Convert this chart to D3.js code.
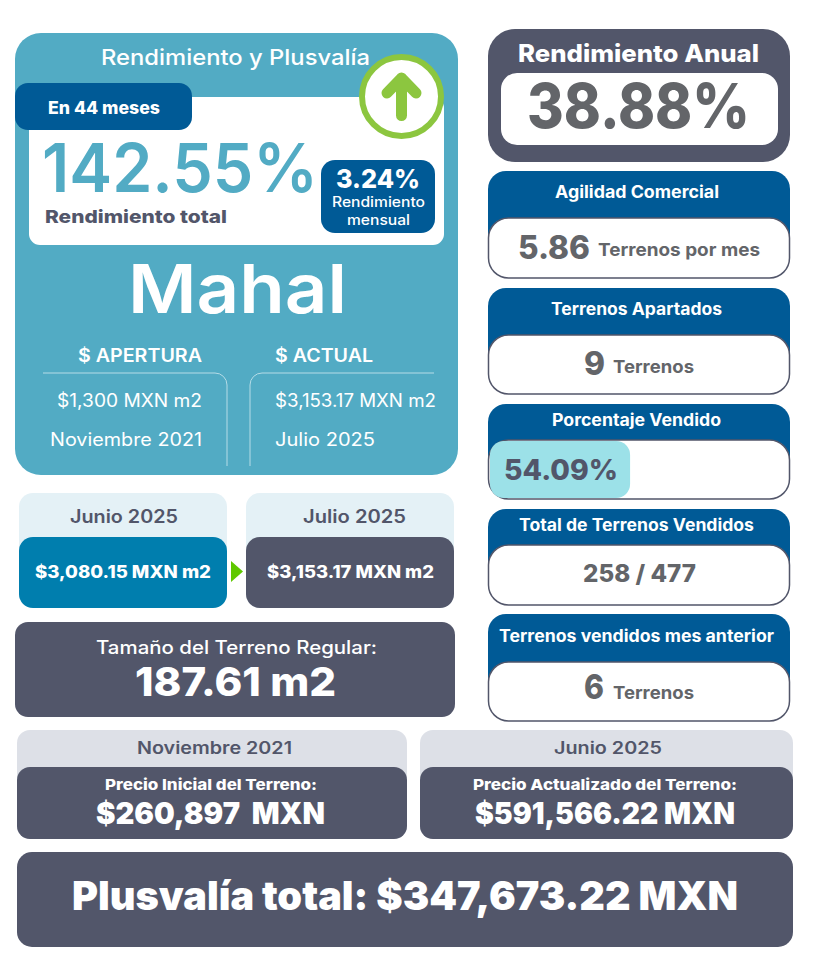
<!DOCTYPE html>
<html>
<head>
<meta charset="utf-8">
<script src="https://cdn.jsdelivr.net/npm/d3@7"></script>
<style>
	html, body { margin: 0; padding: 0; background: #fff; }
	svg { display: block; }
	text { font-family: Inter, Lato, sans-serif; }
</style>
</head>
<body>
<svg id="ficha" width="813" height="965"></svg>
<script>
// datos
let rendimientoTotal = 142.55;
let rendimientoMensual = 3.24;
let rendimientoAnual = 38.88;
let porcentajeVendido = 54.09;
let tarjetasTitulos = ['Agilidad Comercial', 'Terrenos Apartados', 'Porcentaje Vendido', 'Total de Terrenos Vendidos', 'Terrenos vendidos mes anterior'];
let tarjetasValores = ['5.86', '9', '54.09%', '258 / 477', '6'];
let tarjetasUnidades = ['Terrenos por mes', 'Terrenos', '', '', 'Terrenos'];
let aperturaTextos = ['$ APERTURA', '$1,300 MXN m2', 'Noviembre 2021'];
let actualTextos = ['$ ACTUAL', '$3,153.17 MXN m2', 'Julio 2025'];
let mesesNombres = ['Junio 2025', 'Julio 2025'];
let mesesPrecios = ['$3,080.15 MXN m2', '$3,153.17 MXN m2'];
let preciosFechas = ['Noviembre 2021', 'Junio 2025'];
let preciosTitulos = ['Precio Inicial del Terreno:', 'Precio Actualizado del Terreno:'];
let preciosValores = ['$260,897  MXN', '$591,566.22 MXN'];

const azul = '#52abc4', marino = '#005a96', gris = '#52566a', grisTexto = '#636569', blanco = '#fff';

let svg = d3.select('#ficha');

function caja(x0, y0, x1, y1, r, fill, stroke) {
	return svg.append('rect')
		.attr('x', x0).attr('y', y0)
		.attr('width', x1 - x0).attr('height', y1 - y0)
		.attr('rx', r)
		.attr('fill', fill)
		.attr('stroke', stroke || 'none')
		.attr('stroke-width', stroke ? 1.5 : 0);
}

// texto ajustado al ancho que ocupa en la ficha
function texto(str, x0, x1, base, size, weight, color) {
	return svg.append('text')
		.attr('x', x0).attr('y', base)
		.attr('textLength', x1 - x0)
		.attr('lengthAdjust', 'spacingAndGlyphs')
		.attr('font-size', size)
		.attr('font-weight', weight)
		.attr('fill', color)
		.attr('xml:space', 'preserve')
		.text(str);
}

// panel principal
caja(15, 33, 458, 475, 26, azul);
caja(29, 97, 444, 245, 11, blanco);
texto('Rendimiento y Plusvalía', 101, 370, 65, 22, 500, blanco);
caja(15, 83, 192, 130, 13, marino);
texto('En 44 meses', 48, 160, 114, 17, 800, blanco);

svg.append('circle').attr('cx', 401.5).attr('cy', 96.5).attr('r', 39.5)
	.attr('fill', blanco).attr('stroke', '#8cc63f').attr('stroke-width', 6);
svg.append('path')
	.attr('d', d3.line()([[401.5, 115.5], [401.5, 78]]) + d3.line()([[387, 93], [401.5, 78], [416, 93]]))
	.attr('fill', 'none').attr('stroke', '#8cc63f').attr('stroke-width', 11)
	.attr('stroke-linecap', 'round').attr('stroke-linejoin', 'round');

texto(rendimientoTotal.toFixed(2) + '%', 42, 318, 192, 67, 600, azul);
texto('Rendimiento total', 45, 227, 223, 18, 800, gris);

caja(321, 160, 435, 233, 14, marino);
texto(rendimientoMensual.toFixed(2) + '%', 336, 420, 188, 26, 800, blanco);
texto('Rendimiento', 332, 425, 207, 14, 500, blanco);
texto('mensual', 347, 410, 225, 14, 500, blanco);

texto('Mahal', 128, 347, 313, 68, 600, blanco);

// columnas apertura y actual
texto(aperturaTextos[0], 78, 202, 362, 18, 600, blanco);
texto(actualTextos[0], 275, 373, 362, 18, 600, blanco);
texto(aperturaTextos[1], 57, 202, 407, 18, 400, blanco);
texto(actualTextos[1], 275, 436, 407, 18, 400, blanco);
texto(aperturaTextos[2], 50, 202, 446, 18, 400, blanco);
texto(actualTextos[2], 275, 375, 446, 18, 400, blanco);

let marcos = d3.path();
marcos.moveTo(43, 373); marcos.lineTo(215, 373); marcos.arcTo(227, 373, 227, 385, 12); marcos.lineTo(227, 466);
marcos.moveTo(434, 373); marcos.lineTo(262, 373); marcos.arcTo(250, 373, 250, 385, 12); marcos.lineTo(250, 466);
svg.append('path').attr('d', marcos.toString())
	.attr('fill', 'none').attr('stroke', '#b5dce7').attr('stroke-width', 1);

// junio - julio
const mesX = [[19, 227], [246, 454]];
const mesNombreX = [[70, 178], [303, 406]];
const mesPrecioX = [[35, 211], [267, 434]];
const mesColor = ['#007eae', gris];
mesesNombres.forEach(function(d, i) {
	caja(mesX[i][0], 493, mesX[i][1], 608, 14, '#e4f1f6');
	caja(mesX[i][0], 537, mesX[i][1], 608, 14, mesColor[i]);
	texto(d, mesNombreX[i][0], mesNombreX[i][1], 523, 18, 600, gris);
	texto(mesesPrecios[i], mesPrecioX[i][0], mesPrecioX[i][1], 578, 17, 800, blanco);
});
svg.append('path').attr('d', d3.line()([[231, 561], [243, 571.5], [231, 582]]) + 'Z').attr('fill', '#5fc800');

// terreno
caja(15, 622, 455, 717, 13, gris);
texto('Tamaño del Terreno Regular:', 96, 377, 654, 18, 500, blanco);
texto('187.61 m2', 135, 336, 696, 40, 800, blanco);

// precios
const precioX = [[17, 407], [420, 793]];
const precioFechaX = [[137, 292], [554, 662]];
const precioTituloX = [[105, 317], [473, 737]];
const precioValorX = [[96, 325], [475, 735]];
preciosFechas.forEach(function(d, i) {
	caja(precioX[i][0], 730, precioX[i][1], 839, 13, '#dde0e7');
	caja(precioX[i][0], 767, precioX[i][1], 839, 13, gris);
	texto(d, precioFechaX[i][0], precioFechaX[i][1], 754, 17, 600, gris);
	texto(preciosTitulos[i], precioTituloX[i][0], precioTituloX[i][1], 790, 15, 800, blanco);
	texto(preciosValores[i], precioValorX[i][0], precioValorX[i][1], 824, 30, 900, blanco);
});

// plusvalia
caja(17, 852, 793, 947, 15, gris);
texto('Plusvalía total: $347,673.22 MXN', 72, 738, 910, 40, 900, blanco);

// rendimiento anual
caja(488, 29, 790, 162, 27, gris);
texto('Rendimiento Anual', 518, 759, 62, 24, 800, blanco);
caja(501, 73, 778, 145, 16, blanco);
texto(rendimientoAnual.toFixed(2) + '%', 527, 750, 128, 62, 800, grisTexto);

// tarjetas de la derecha
const tarjetaY = [[171, 218, 278], [288, 335, 394], [404, 440, 499], [509, 545, 605], [614, 662, 721]];
const tituloX = [[555, 719], [551, 722], [552, 721], [519, 754], [499, 774]];
const tituloBase = [198, 315, 426, 531, 642];
const valorX = [[518, 590], [584, 605], [504, 618], [583, 696], [584, 604]];
const valorBase = [259, 375, 480, 582, 699];
const valorSize = [32, 32, 28, 24, 34];
const unidadX = [[598, 760], [613, 694], null, null, [613, 694]];
const unidadBase = [256, 373, 0, 0, 699];

let anchoVendido = d3.scaleLinear().domain([0, 100]).range([0, 259]);

tarjetasTitulos.forEach(function(d, i) {
	let f = tarjetaY[i];
	caja(488, f[0], 790, f[2] - 4, 18, marino);
	caja(488.5, f[1], 789.5, f[2], 20, blanco, gris);
	if (i == 2) {
		svg.append('rect')
			.attr('x', 490).attr('y', f[1] + 1)
			.attr('width', anchoVendido(porcentajeVendido)).attr('height', f[2] - f[1] - 2)
			.attr('rx', 14)
			.attr('fill', '#9ce1e8');
	}
	texto(d, tituloX[i][0], tituloX[i][1], tituloBase[i], 17, 700, blanco);
	texto(tarjetasValores[i], valorX[i][0], valorX[i][1], valorBase[i], valorSize[i], 800, i == 2 ? gris : grisTexto);
	if (tarjetasUnidades[i]) {
		texto(tarjetasUnidades[i], unidadX[i][0], unidadX[i][1], unidadBase[i], 18, 700, grisTexto);
	}
});
</script>
</body>
</html>
